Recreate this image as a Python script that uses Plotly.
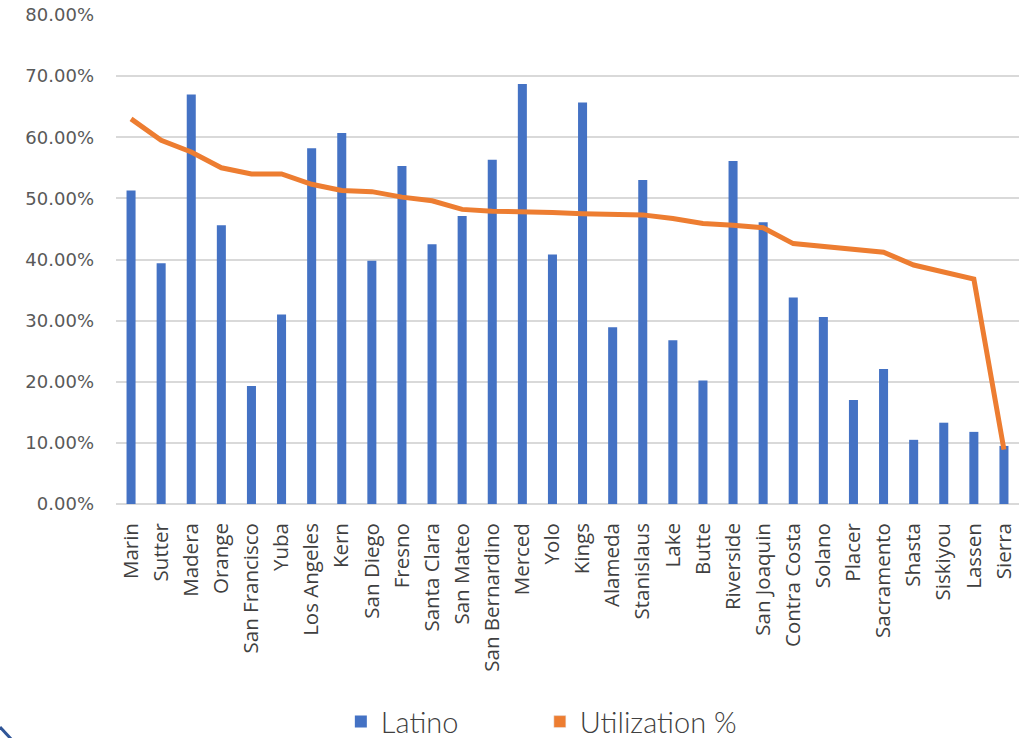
import plotly.graph_objects as go

counties = [
    "Marin", "Sutter", "Madera", "Orange", "San Francisco", "Yuba", "Los Angeles",
    "Kern", "San Diego", "Fresno", "Santa Clara", "San Mateo", "San Bernardino",
    "Merced", "Yolo", "Kings", "Alameda", "Stanislaus", "Lake", "Butte", "Riverside",
    "San Joaquin", "Contra Costa", "Solano", "Placer", "Sacramento", "Shasta",
    "Siskiyou", "Lassen", "Sierra",
]

latino_pct = [
    51.3, 39.4, 67.0, 45.6, 19.3, 31.0, 58.2, 60.7, 39.8, 55.3, 42.5, 47.1, 56.3,
    68.7, 40.8, 65.7, 28.9, 53.0, 26.8, 20.2, 56.1, 46.1, 33.8, 30.6, 17.0, 22.1,
    10.5, 13.3, 11.8, 9.5,
]

utilization_pct = [
    63.0, 59.5, 57.6, 55.0, 54.0, 54.0, 52.3, 51.3, 51.1, 50.2, 49.6, 48.2, 47.9,
    47.9, 47.7, 47.5, 47.3, 47.3, 46.7, 45.9, 45.6, 45.2, 42.6, 42.1, 41.8, 41.2,
    39.1, 38.0, 36.8, 8.9,
]

y_ticks = [0, 10, 20, 30, 40, 50, 60, 70, 80]
y_tick_text = [f"{v:.2f}%" for v in y_ticks]

BLUE = "#4472C4"
ORANGE = "#ED7D31"
TEXT = "#404040"
GRID = "#D9D9D9"

fig = go.Figure()

fig.add_trace(go.Bar(
    x=counties, y=latino_pct, name="Latino",
    marker=dict(color=BLUE, line=dict(width=0)), width=0.3,
))

fig.add_trace(go.Scatter(
    x=counties, y=utilization_pct, name="Utilization %", mode="lines",
    line=dict(color=ORANGE, width=5), showlegend=False,
))

# square legend swatch for the utilization line
fig.add_trace(go.Bar(
    x=[counties[0]], y=[None], name="Utilization %",
    marker=dict(color=ORANGE), width=0.3,
))

fig.update_layout(
    width=1035, height=738,
    margin=dict(l=116, r=16, t=15, b=234, autoexpand=False),
    paper_bgcolor="white", plot_bgcolor="white",
    barmode="overlay",
    font=dict(family="Open Sans", color=TEXT),
    showlegend=True,
    legend=dict(
        orientation="h", x=0.249, xanchor="left",
        yref="container", y=0.022, yanchor="middle",
        font=dict(size=29, color=TEXT, family="Lato", weight=300),
        itemwidth=30, traceorder="normal",
        entrywidth=154, entrywidthmode="pixels",
    ),
    xaxis=dict(
        type="category", tickangle=-90, showgrid=False, ticks="",
        tickfont=dict(size=20.5, color=TEXT, family="Open Sans"),
        showline=False, range=[-0.5, len(counties) - 0.5], automargin=False,
        ticklabelstandoff=14,
    ),
    yaxis=dict(
        range=[0, 80], tickvals=y_ticks, ticktext=y_tick_text,
        showgrid=True, gridcolor=GRID, gridwidth=1.5, zeroline=True,
        zerolinecolor=GRID, zerolinewidth=1.5, ticks="",
        tickfont=dict(size=18, color="#595959", family="DejaVu Sans"),
        ticklabelstandoff=21, automargin=False,
    ),
    shapes=[dict(
        type="line", xref="paper", yref="paper",
        x0=-116 / 903, y0=(504 - 727) / 489, x1=-104 / 903, y1=(504 - 740) / 489,
        line=dict(color="#2F5597", width=3),
    )],
)

fig.write_html("out.html")
